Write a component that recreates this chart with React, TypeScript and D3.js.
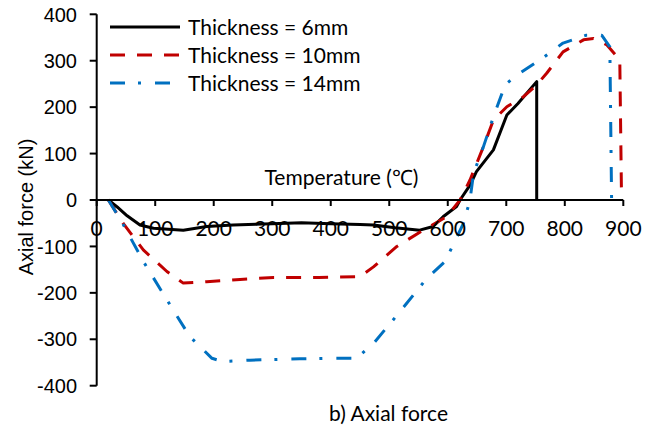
import React from "react";
import * as d3 from "d3";

const xTicks = [0, 100, 200, 300, 400, 500, 600, 700, 800, 900];
const yTicks = [-400, -300, -200, -100, 0, 100, 200, 300, 400];

const seriesNames = ["Thickness = 6mm", "Thickness = 10mm", "Thickness = 14mm"];

const thick6: [number, number][] = [
  [20, 0], [35, -15], [52, -34], [74, -54], [97, -61], [148, -65], [188, -57], [233, -54],
  [300, -51], [350, -49], [400, -51], [450, -53], [473, -54], [510, -60], [552, -65],
  [575, -57], [592, -36], [615, -14], [621, 0], [638, 32], [649, 61], [678, 108],
  [701, 183], [720, 208], [752, 255], [752, 0],
];

const thick10: [number, number][] = [
  [20, 0], [45, -50], [80, -108], [120, -154], [148, -179], [188, -176], [245, -171],
  [302, -167], [380, -167], [450, -165], [473, -144], [513, -100], [558, -65], [598, -36],
  [621, 0], [638, 43], [661, 115], [678, 172], [701, 201], [729, 222], [752, 248],
  [769, 273], [797, 319], [832, 345], [849, 348], [872, 334], [894, 302], [897, 0],
];

const thick14: [number, number][] = [
  [20, 0], [45, -52], [80, -133], [120, -215], [159, -294], [197, -341], [216, -348],
  [262, -345], [347, -342], [399, -341], [444, -341], [473, -309], [518, -241],
  [564, -169], [595, -133], [609, -97], [627, -50], [638, 0], [644, 57], [661, 115],
  [678, 179], [698, 248], [718, 269], [758, 302], [797, 338], [837, 355], [863, 355],
  [877, 330], [880, 0],
];

const seriesData = [thick6, thick10, thick14];
const colors = ["#000000", "#C00000", "#0070C0"];
const dashes = ["none", "15 12", "15 13 3 14"];

export default function App() {
  const x = d3.scaleLinear().domain([0, 900]).range([96.7, 623.3]);
  const y = d3.scaleLinear().domain([-400, 400]).range([385.7, 14.3]);
  const line = d3
    .line<[number, number]>()
    .x((d) => x(d[0]))
    .y((d) => y(d[1]));

  const lato = "Lato, 'Open Sans', sans-serif";
  const arial = "'Liberation Sans', Arial, sans-serif";

  return (
    <div style={{ position: "fixed", left: 0, top: 0 }}>
      <svg width={654} height={432} style={{ display: "block", background: "#fff" }}>
        {/* series */}
        {seriesData.map((s, i) => (
          <path
            key={i}
            d={line(s) || ""}
            fill="none"
            stroke={colors[i]}
            strokeWidth={3}
            strokeDasharray={dashes[i]}
            strokeLinejoin="round"
          />
        ))}

        {/* y axis */}
        <line x1={x(0)} x2={x(0)} y1={y(400)} y2={y(-400)} stroke="#000" strokeWidth={2} />
        {yTicks.map((t) => (
          <g key={t}>
            <line x1={x(0) - 7} x2={x(0)} y1={y(t)} y2={y(t)} stroke="#000" strokeWidth={2} />
            <text
              x={77}
              y={y(t)}
              dy="0.36em"
              textAnchor="end"
              fontFamily={arial}
              fontSize={20}
              fill="#000"
            >
              {t}
            </text>
          </g>
        ))}

        {/* x axis at zero */}
        <line x1={x(0)} x2={x(900)} y1={y(0)} y2={y(0)} stroke="#000" strokeWidth={2} />
        {xTicks.map((t) => (
          <g key={t}>
            <line x1={x(t)} x2={x(t)} y1={y(0)} y2={y(0) + 6} stroke="#000" strokeWidth={2} />
            <text
              x={x(t)}
              y={236}
              textAnchor="middle"
              fontFamily={lato}
              fontSize={21}
              fill="#000"
            >
              {t}
            </text>
          </g>
        ))}

        {/* axis titles */}
        <text x={341.5} y={185} textAnchor="middle" fontFamily={lato} fontSize={21} fill="#000">
          Temperature (℃)
        </text>
        <text
          transform={`translate(33,207) rotate(-90)`}
          textAnchor="middle"
          fontFamily={arial}
          fontSize={20}
          fill="#000"
        >
          Axial force (kN)
        </text>
        <text x={329} y={421} fontFamily={lato} fontSize={21} fill="#000">
          b) Axial force
        </text>

        {/* legend */}
        {seriesNames.map((n, i) => {
          const ly = 27 + i * 28;
          return (
            <g key={n}>
              <line
                x1={110}
                x2={180}
                y1={ly}
                y2={ly}
                stroke={colors[i]}
                strokeWidth={3}
                strokeDasharray={dashes[i]}
              />
              <text x={188} y={ly} dy="0.36em" fontFamily={lato} fontSize={21} fill="#000">
                {n}
              </text>
            </g>
          );
        })}
      </svg>
    </div>
  );
}
